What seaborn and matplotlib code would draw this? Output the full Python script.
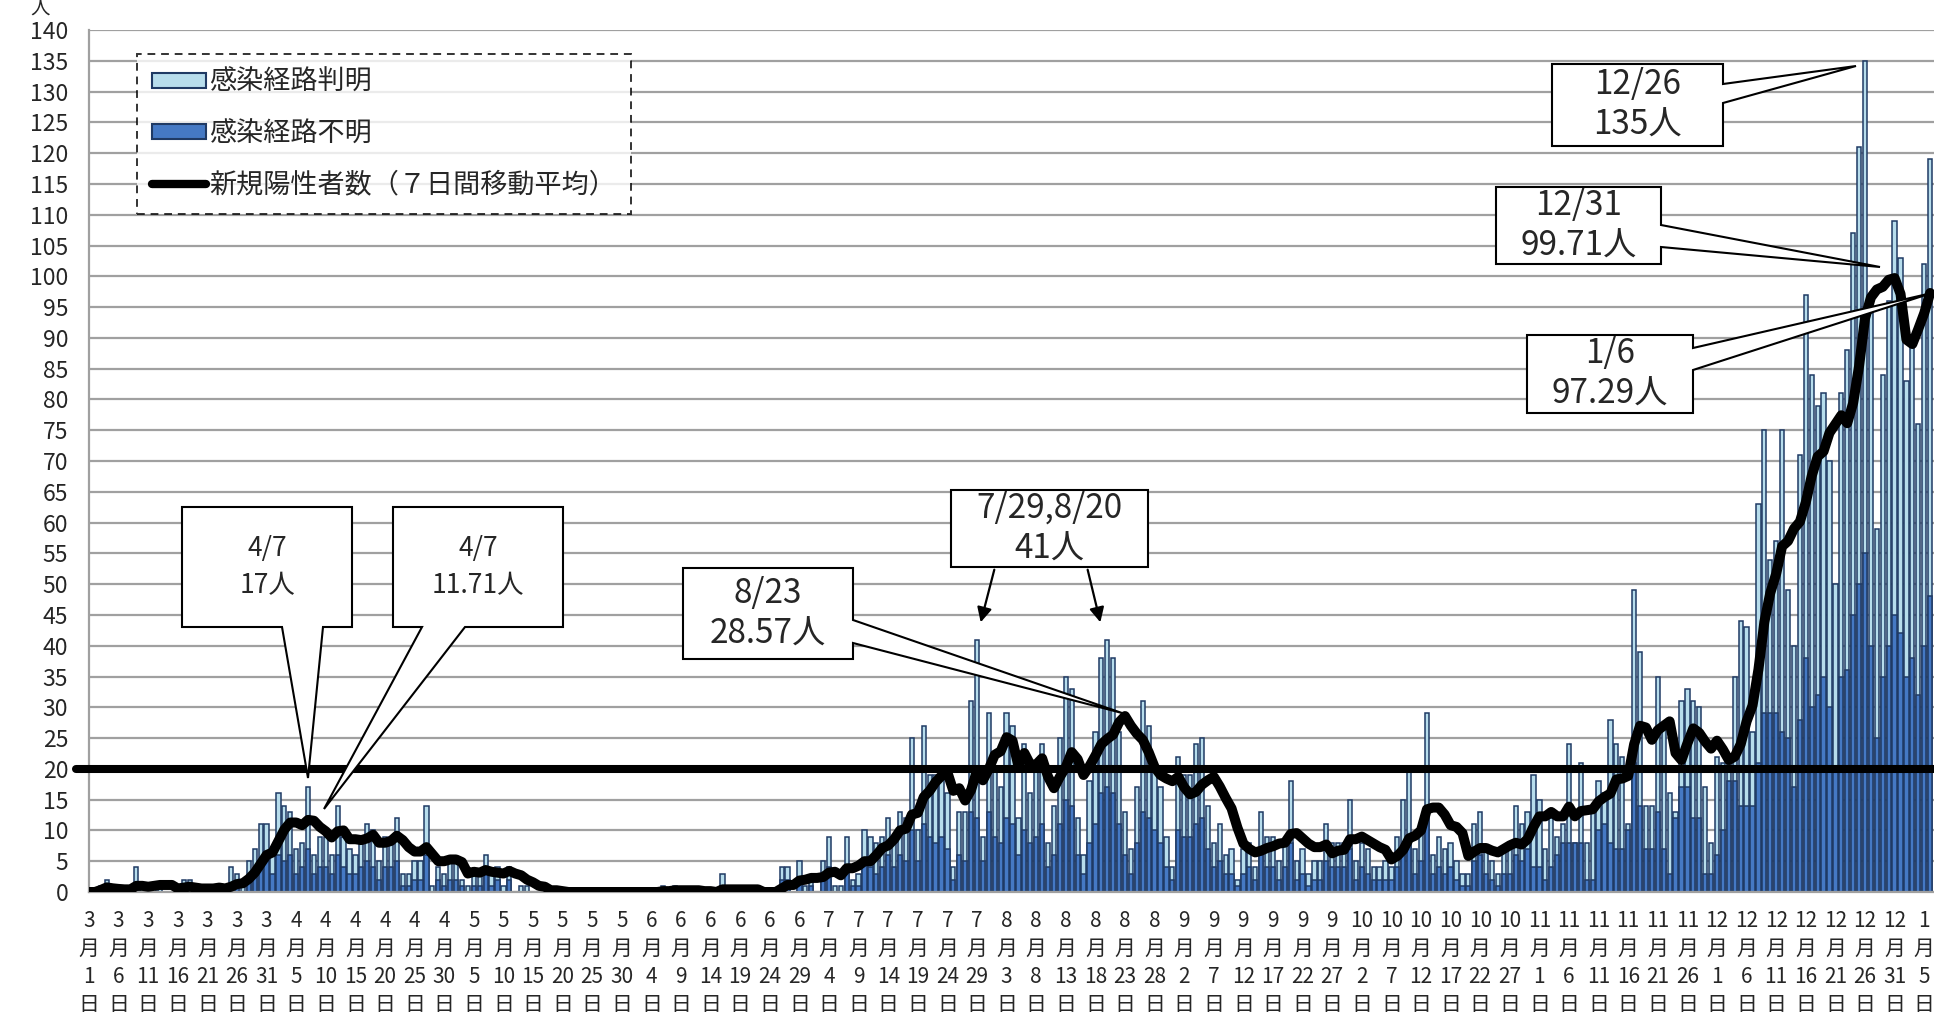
import numpy as np
import pandas as pd
import matplotlib
matplotlib.use("Agg")
import matplotlib.pyplot as plt
import seaborn as sns
from matplotlib.patches import Polygon, Patch, FancyArrowPatch
from matplotlib.lines import Line2D

# ---------------- data (daily new positives, 2020-03-01 .. 2021-01-06) ----------------
start_date = "2020-03-01"

tot_mar = [0,0,1,2,0,0,0,0,4,1,1,1,1,0,0,0,2,2,0,0,0,0,1,1,4,3,1,5,7,11,11]
tot_apr = [7,16,14,13,7,8,17,6,9,9,6,14,9,7,6,8,11,10,5,9,9,12,3,3,5,5,14,1,4,3]
tot_may = [5,5,2,1,3,3,6,3,4,1,4,0,1,1,0,0,0,0,0,0,0,0,0,0,0,0,0,0,0,0,0]
tot_jun = [0,0,0,0,0,1,0,1,0,0,0,0,0,0,0,3,0,0,0,0,0,0,0,0,0,4,4,0,5,1]
tot_jul = [2,0,5,9,1,1,9,2,3,10,9,8,9,12,9,13,12,25,10,27,19,19,20,16,4,13,13,31,41,9,29]
tot_aug = [20,17,29,27,12,24,16,20,24,8,14,25,35,33,12,6,18,26,38,41,38,26,13,7,17,31,27,21,17,9,4]
tot_sep = [22,19,19,24,25,14,8,11,6,7,2,7,8,4,13,9,9,5,8,18,5,7,3,5,5,11,8,8,8,15]
tot_oct = [5,8,7,4,4,5,4,9,15,20,7,10,29,6,9,7,8,5,3,3,11,13,7,5,3,7,7,14,11,13,19]
tot_nov = [15,7,12,9,11,24,8,21,8,13,18,16,28,24,22,11,49,39,14,14,35,27,16,13,31,33,31,30,17,8]
tot_dec = [22,21,21,35,44,43,26,63,75,54,57,75,49,40,71,97,84,79,81,70,50,81,88,107,121,135,94,59,84,96,109]
tot_jan = [103,83,89,76,102,119]

# route unknown (感染経路不明) part of each day
unk_mar = [0,0,0,1,0,0,0,0,1,0,0,0,0,0,0,0,1,1,0,0,0,0,0,0,1,1,0,2,3,4,5]
unk_apr = [3,6,5,6,3,4,7,3,4,4,3,6,4,3,3,4,5,4,2,4,4,5,1,1,2,2,6,0,2,1]
unk_may = [2,2,1,0,1,1,3,1,2,0,2,0,0,0,0,0,0,0,0,0,0,0,0,0,0,0,0,0,0,0,0]
unk_jun = [0,0,0,0,0,0,0,0,0,0,0,0,0,0,0,1,0,0,0,0,0,0,0,0,0,2,2,0,2,0]
unk_jul = [1,0,2,4,0,0,4,1,1,5,4,3,4,6,4,6,5,10,5,11,9,8,9,7,2,6,5,13,12,5,13]
unk_aug = [9,8,12,11,6,10,8,9,11,4,6,11,15,14,6,3,8,11,16,17,16,11,6,3,8,13,12,10,8,4,2]
unk_sep = [10,9,9,11,12,7,4,5,3,3,1,3,4,2,6,4,4,2,4,8,2,3,1,2,2,5,4,4,4,7]
unk_oct = [2,4,3,2,2,2,2,4,7,9,3,5,13,3,4,3,4,2,1,1,5,6,3,2,1,3,3,6,5,7,4]
unk_nov = [4,2,4,6,8,8,8,8,2,2,10,11,8,7,7,10,21,14,7,7,13,7,3,12,17,17,12,12,3,3]
unk_dec = [6,10,18,18,14,14,14,21,29,29,29,26,25,17,28,38,30,32,35,30,20,35,36,45,50,55,40,25,35,40,45]
unk_jan = [42,35,38,32,40,48]

threshold = 20
series_names = ["感染経路判明", "感染経路不明", "新規陽性者数（７日間移動平均）"]
unit_label = "人"

total = (tot_mar + tot_apr + tot_may + tot_jun + tot_jul + tot_aug + tot_sep +
         tot_oct + tot_nov + tot_dec + tot_jan)
unknown = (unk_mar + unk_apr + unk_may + unk_jun + unk_jul + unk_aug + unk_sep +
           unk_oct + unk_nov + unk_dec + unk_jan)
n = len(total)
dates = pd.date_range(start_date, periods=n, freq="D")

df = pd.DataFrame({"idx": np.arange(n), "total": total, "unknown": unknown})
df["ma7"] = df["total"].rolling(7, min_periods=1).mean()

# ---------------- style ----------------
sns.set_style("white")
plt.rcParams["font.family"] = ["Noto Sans CJK JP", "DejaVu Sans"]

KNOWN = "#B7DDEC"
UNK = "#4579C4"
EDGE = "#1F3A64"
GRID = "#A0A0A0"

W, H = 1934, 1025
fig = plt.figure(figsize=(W / 100, H / 100), dpi=100)
ax_left, ax_bottom_px, ax_top_px = 89, 892, 30
ax = fig.add_axes([ax_left / W, (H - ax_bottom_px) / H, (W - ax_left) / W,
                   (ax_bottom_px - ax_top_px) / H])
ax.set_axisbelow(True)

sns.barplot(data=df, x="idx", y="total", color=KNOWN, saturation=1,
            edgecolor=EDGE, linewidth=1.1, width=0.72, ax=ax, errorbar=None)
sns.barplot(data=df, x="idx", y="unknown", color=UNK, saturation=1,
            edgecolor=EDGE, linewidth=1.1, width=0.72, ax=ax, errorbar=None)
for p in ax.patches:
    if p.get_height() == 0:
        p.set_visible(False)

sns.lineplot(x=df["idx"], y=df["ma7"], color="black", linewidth=7.2, ax=ax,
             solid_joinstyle="round", solid_capstyle="round", zorder=6)
ax.axhline(threshold, xmin=-13 / (W - ax_left), xmax=1, color="black",
           linewidth=5.8, clip_on=False, zorder=5)

px_per_day = 5.92
ax.set_xlim(0, (W - ax_left) / px_per_day)
ax.set_ylim(0, 140)
ax.set_yticks(np.arange(0, 141, 5))
ax.yaxis.grid(True, color=GRID, linewidth=1.6)
ax.xaxis.grid(False)

labels = [f"{d.month}\n月\n{d.day}\n日" if i % 5 == 0 else "" for i, d in enumerate(dates)]
ax.set_xticks(np.arange(n))
ax.set_xticklabels(labels, fontsize=15, linespacing=1.36)
ax.tick_params(axis="x", length=6, width=1.4, color=GRID, pad=7)
ax.tick_params(axis="y", length=9, width=1.6, color=GRID, labelsize=16.5, pad=6)
ax.set_xlabel("")
ax.set_ylabel("")
for s in ["top", "right"]:
    ax.spines[s].set_visible(False)
for s in ["left", "bottom"]:
    ax.spines[s].set_color(GRID)
    ax.spines[s].set_linewidth(1.6)

# y unit
fig.text(40 / W, 1 - 9 / H, unit_label, ha="center", va="center", fontsize=14)

# ---------------- legend ----------------
handles = [Patch(facecolor=KNOWN, edgecolor=EDGE, linewidth=1.5),
           Patch(facecolor=UNK, edgecolor=EDGE, linewidth=1.5),
           Line2D([], [], color="black", linewidth=6)]
leg = ax.legend(handles, series_names, loc="upper left",
                bbox_to_anchor=(137 / W, 1 - 54 / H), bbox_transform=fig.transFigure,
                fontsize=19.5, frameon=True, fancybox=False, borderaxespad=0,
                handlelength=2.0, handleheight=0.5, handletextpad=0.1,
                labelspacing=0.9, borderpad=0.55)
fr = leg.get_frame()
fr.set_edgecolor("black")
fr.set_linewidth(1.4)
fr.set_linestyle((0, (4, 3)))
fr.set_facecolor("white")
leg.set_zorder(20)

# ---------------- callouts ----------------
def fp(x, y):
    return (x / W, 1 - y / H)

def callout(box, side, base, tip, text, fs, ls):
    L, T, R, B = box
    if side == "bottom":
        pts = [(L, T), (R, T), (R, B), (base[1], B), tip, (base[0], B), (L, B)]
    else:
        pts = [(L, T), (R, T), (R, base[0]), tip, (R, base[1]), (R, B), (L, B)]
    fig.add_artist(Polygon([fp(*p) for p in pts], closed=True, facecolor="white",
                           edgecolor="black", linewidth=1.5,
                           transform=fig.transFigure, zorder=10))
    fig.text(*fp((L + R) / 2, (T + B) / 2), text, ha="center", va="center",
             fontsize=fs, linespacing=ls, zorder=11)

callout((182, 507, 352, 627), "bottom", (282, 323), (308, 778), "4/7\n17人", 19, 1.45)
callout((393, 507, 563, 627), "bottom", (422, 465), (324, 809), "4/7\n11.71人", 19, 1.45)
callout((683, 568, 853, 659), "right", (620, 643), (1122, 713), "8/23\n28.57人", 24, 1.2)
callout((1552, 64, 1723, 146), "right", (84, 103), (1856, 66), "12/26\n135人", 24, 1.2)
callout((1496, 187, 1661, 264), "right", (225, 247), (1880, 267), "12/31\n99.71人", 24, 1.2)
callout((1527, 335, 1693, 413), "right", (348, 370), (1932, 293), "1/6\n97.29人", 24, 1.2)

# 7/29, 8/20 box with two arrows
L, T, R, B = 951, 490, 1148, 567
fig.add_artist(Polygon([fp(L, T), fp(R, T), fp(R, B), fp(L, B)], closed=True,
                       facecolor="white", edgecolor="black", linewidth=1.5,
                       transform=fig.transFigure, zorder=10))
fig.text(*fp((L + R) / 2, (T + B) / 2), "7/29,8/20\n41人", ha="center", va="center",
         fontsize=24, linespacing=1.2, zorder=11)
for a, b in [((995, 567), (980, 625)), ((1087, 567), (1101, 625))]:
    fig.add_artist(FancyArrowPatch(fp(*a), fp(*b), arrowstyle="-|>", mutation_scale=22,
                                   color="black", linewidth=1.6,
                                   transform=fig.transFigure, zorder=11))

fig.savefig("out.png", dpi=100)
